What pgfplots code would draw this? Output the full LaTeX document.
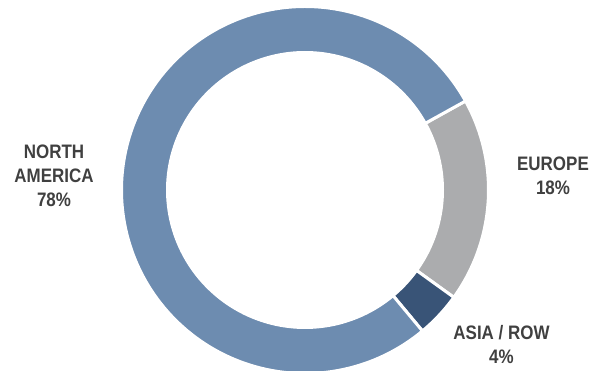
\documentclass[border=0pt]{standalone}
\usepackage{fontspec}
\setmainfont[FakeStretch=0.87]{Liberation Sans}
\usepackage{pgfplots}
\pgfplotsset{compat=1.18}
\usepackage{pgfplotstable}
\definecolor{nacol}{HTML}{6D8CB0}
\definecolor{eucol}{HTML}{ABACAE}
\definecolor{ascol}{HTML}{395477}
\definecolor{lab}{HTML}{404040}
\pgfplotstableread{
region value
NA 78
EU 18
AS 4
}\shares
\pgfplotstablegetelem{0}{value}\of\shares \let\vNA\pgfplotsretval
\pgfplotstablegetelem{1}{value}\of\shares \let\vEU\pgfplotsretval
\pgfplotstablegetelem{2}{value}\of\shares \let\vAS\pgfplotsretval
\pgfmathsetmacro\aStart{29}
\pgfmathsetmacro\aEU{\aStart-3.6*\vEU}
\pgfmathsetmacro\aAS{\aEU-3.6*\vAS}
\pgfmathsetmacro\aNA{\aAS-3.6*\vNA}
\begin{document}
\begin{tikzpicture}
\path[use as bounding box] (0,0) rectangle (592pt,371pt);
\begin{axis}[width=592pt,height=371pt,scale only axis,xmin=0,xmax=592,ymin=0,ymax=371,hide axis,clip=true]
\addplot[fill=eucol, draw=white, line width=3pt, line join=round, domain=\aEU:\aStart, samples=80] ({305+183.5*cos(x)},{181+183.5*sin(x)}) -- (305,181) -- cycle;
\addplot[fill=ascol, draw=white, line width=3pt, line join=round, domain=\aAS:\aEU, samples=30] ({305+183.5*cos(x)},{181+183.5*sin(x)}) -- (305,181) -- cycle;
\addplot[fill=nacol, draw=white, line width=3pt, line join=round, domain=\aNA:\aAS, samples=240] ({305+183.5*cos(x)},{181+183.5*sin(x)}) -- (305,181) -- cycle;
\addplot[fill=white, draw=none, domain=0:360, samples=240] ({305+139*cos(x)},{181+139*sin(x)}) -- cycle;
\node[align=center, font=\bfseries\fontsize{19.5}{24}\selectfont, text=lab] at (54,195.5) {NORTH\\AMERICA\\78\%};
\node[align=center, font=\bfseries\fontsize{19.5}{24}\selectfont, text=lab] at (553,195) {EUROPE\\18\%};
\node[align=center, font=\bfseries\fontsize{19.5}{24}\selectfont, text=lab] at (501.5,26.5) {ASIA / ROW\\4\%};
\end{axis}
\end{tikzpicture}
\end{document}
